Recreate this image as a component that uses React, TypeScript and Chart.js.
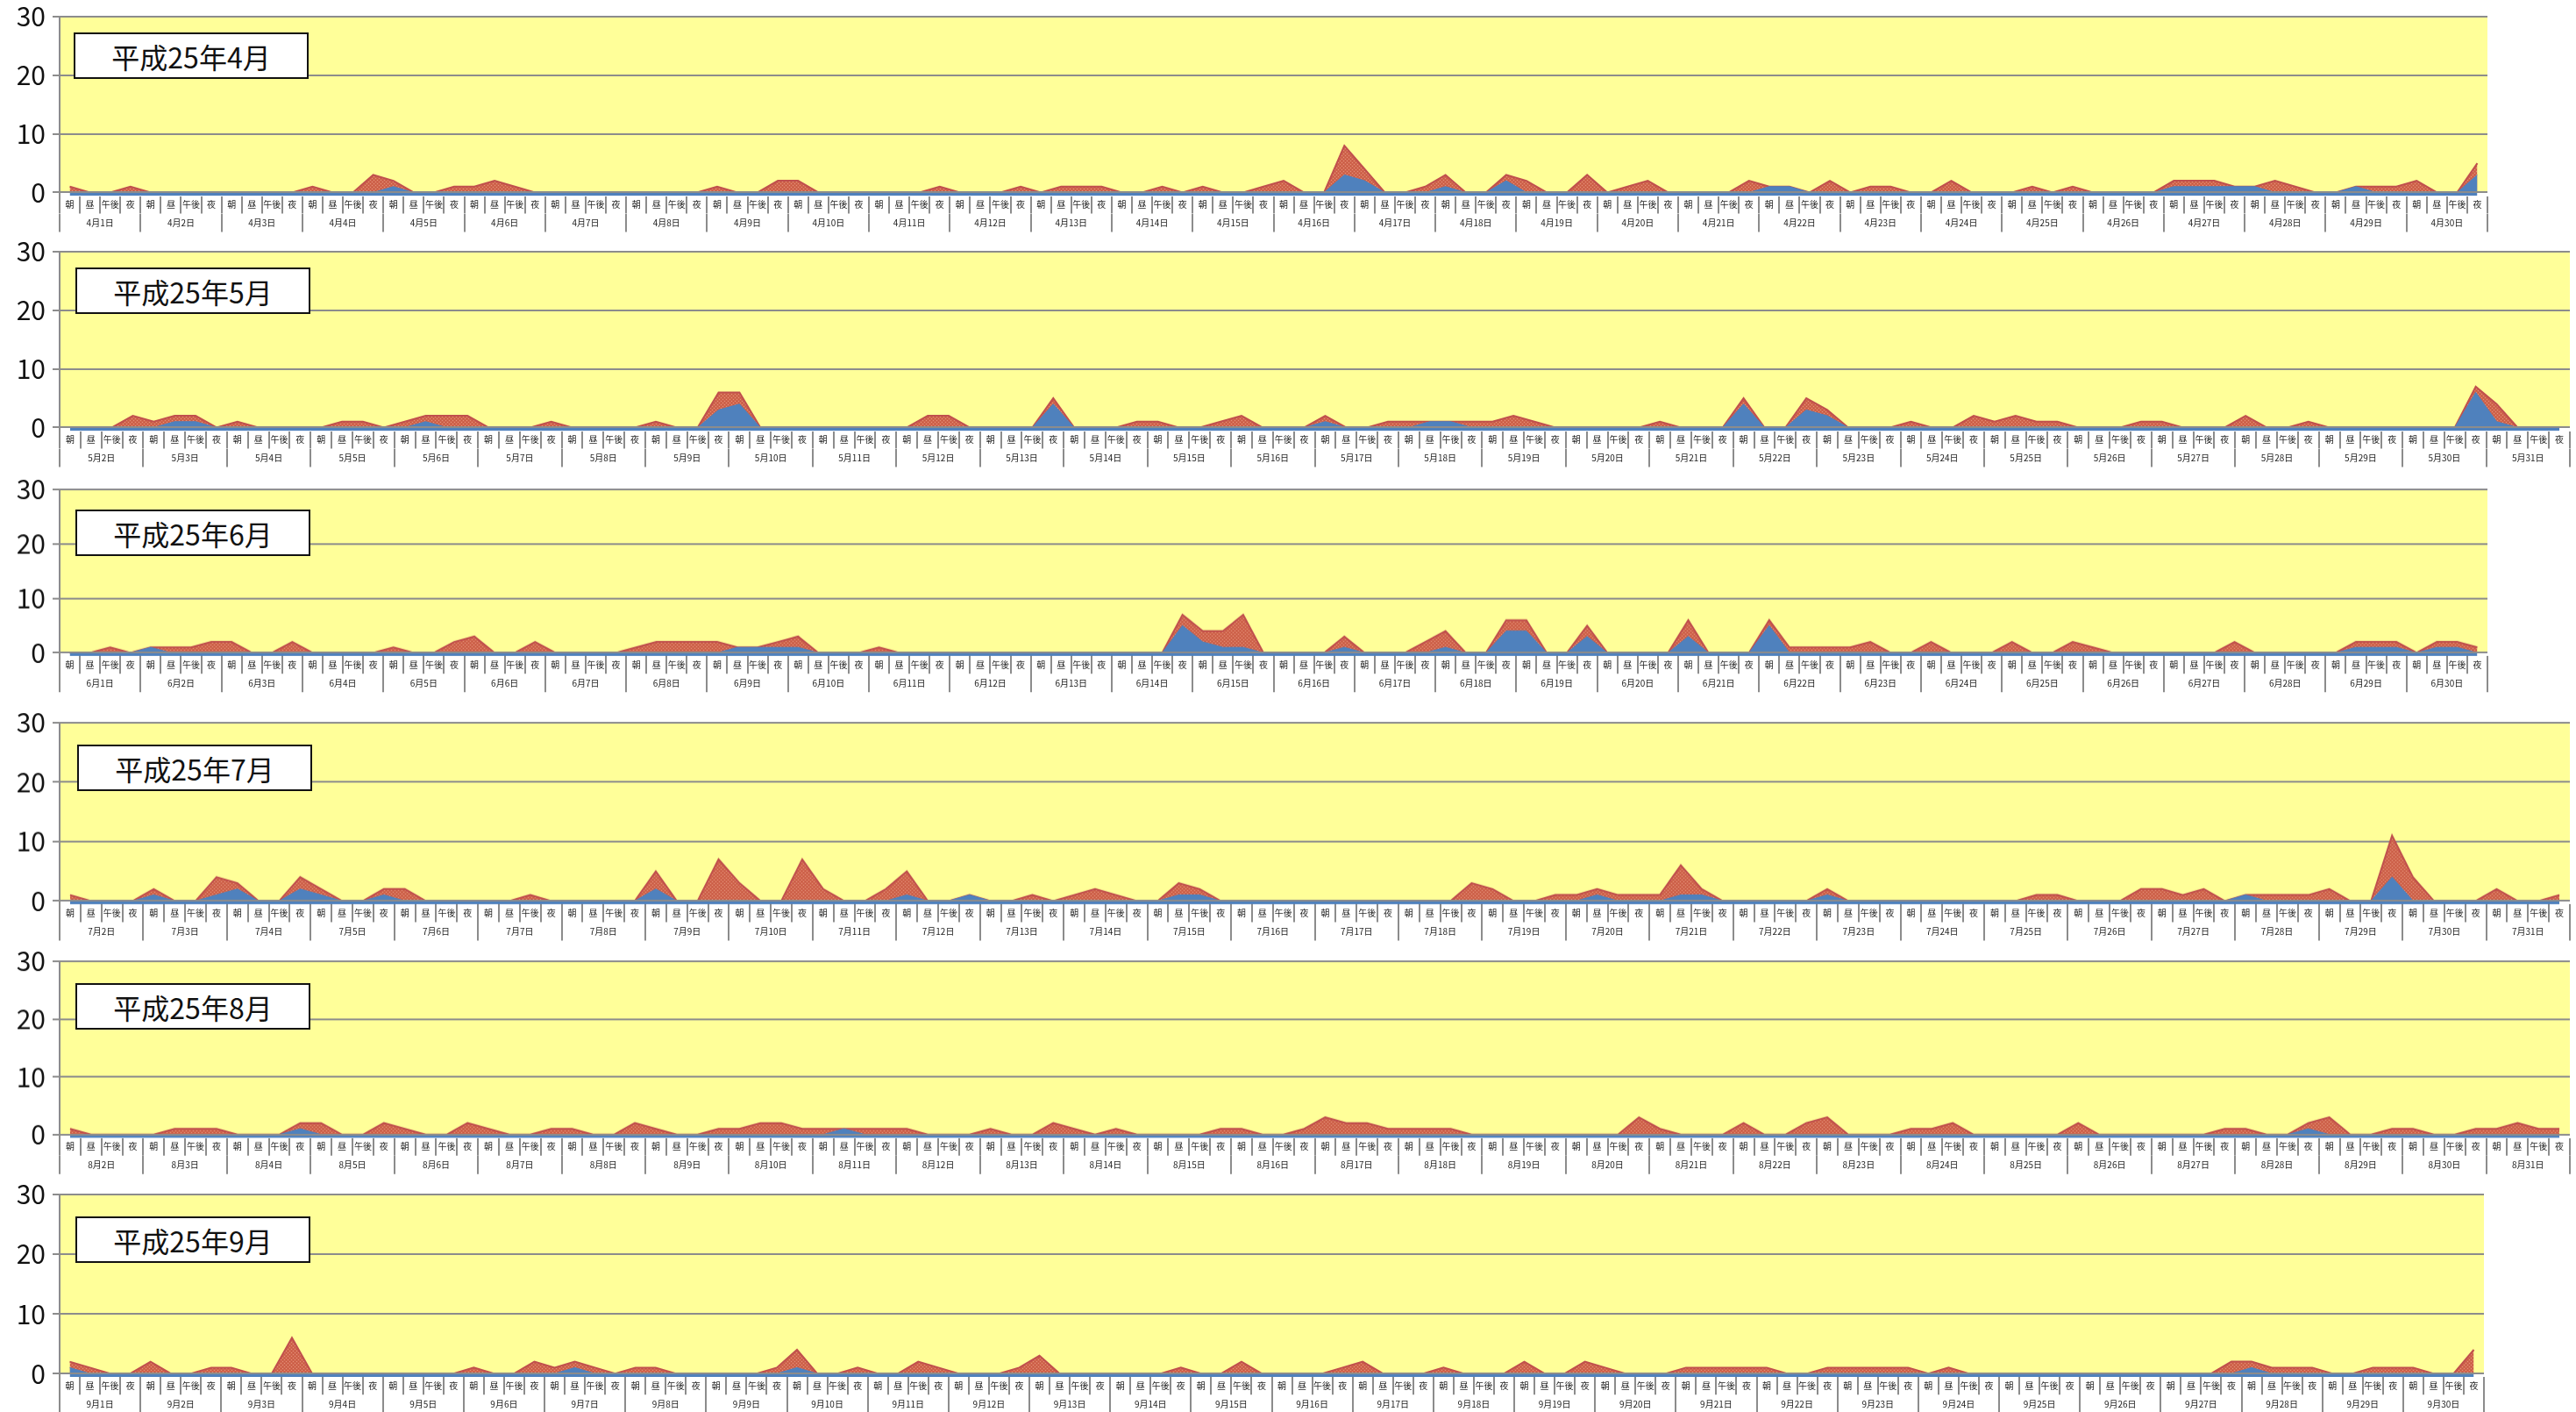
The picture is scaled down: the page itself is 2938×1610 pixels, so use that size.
import React, { useEffect, useRef } from "react";
import { Chart, registerables } from "chart.js";
Chart.register(...registerables);

const FONT = '"Noto Sans CJK JP", "Noto Sans", sans-serif';
const SLOTS = ["朝", "昼", "午後", "夜"];
const Y_TICKS = [0, 10, 20, 30];
const STRIP = -0.6;

const aprDays = ["4月1日","4月2日","4月3日","4月4日","4月5日","4月6日","4月7日","4月8日","4月9日","4月10日","4月11日","4月12日","4月13日","4月14日","4月15日","4月16日","4月17日","4月18日","4月19日","4月20日","4月21日","4月22日","4月23日","4月24日","4月25日","4月26日","4月27日","4月28日","4月29日","4月30日"];
const mayDays = ["5月2日","5月3日","5月4日","5月5日","5月6日","5月7日","5月8日","5月9日","5月10日","5月11日","5月12日","5月13日","5月14日","5月15日","5月16日","5月17日","5月18日","5月19日","5月20日","5月21日","5月22日","5月23日","5月24日","5月25日","5月26日","5月27日","5月28日","5月29日","5月30日","5月31日"];
const junDays = ["6月1日","6月2日","6月3日","6月4日","6月5日","6月6日","6月7日","6月8日","6月9日","6月10日","6月11日","6月12日","6月13日","6月14日","6月15日","6月16日","6月17日","6月18日","6月19日","6月20日","6月21日","6月22日","6月23日","6月24日","6月25日","6月26日","6月27日","6月28日","6月29日","6月30日"];
const julDays = ["7月2日","7月3日","7月4日","7月5日","7月6日","7月7日","7月8日","7月9日","7月10日","7月11日","7月12日","7月13日","7月14日","7月15日","7月16日","7月17日","7月18日","7月19日","7月20日","7月21日","7月22日","7月23日","7月24日","7月25日","7月26日","7月27日","7月28日","7月29日","7月30日","7月31日"];
const augDays = ["8月2日","8月3日","8月4日","8月5日","8月6日","8月7日","8月8日","8月9日","8月10日","8月11日","8月12日","8月13日","8月14日","8月15日","8月16日","8月17日","8月18日","8月19日","8月20日","8月21日","8月22日","8月23日","8月24日","8月25日","8月26日","8月27日","8月28日","8月29日","8月30日","8月31日"];
const sepDays = ["9月1日","9月2日","9月3日","9月4日","9月5日","9月6日","9月7日","9月8日","9月9日","9月10日","9月11日","9月12日","9月13日","9月14日","9月15日","9月16日","9月17日","9月18日","9月19日","9月20日","9月21日","9月22日","9月23日","9月24日","9月25日","9月26日","9月27日","9月28日","9月29日","9月30日"];

// values per slot (朝, 昼, 午後, 夜) per day
const aprTotal = [
  1,0,0,1, 0,0,0,0, 0,0,0,0, 1,0,0,3, 2,0,0,1, 1,2,1,0, 0,0,0,0, 0,0,0,0, 1,0,0,2, 2,0,0,0,
  0,0,0,1, 0,0,0,1, 0,1,1,1, 0,0,1,0, 1,0,0,1, 2,0,0,8, 4,0,0,1, 3,0,0,3, 2,0,0,3, 0,1,2,0,
  0,0,0,2, 1,1,0,2, 0,1,1,0, 0,2,0,0, 0,1,0,1, 0,0,0,0, 2,2,2,1, 1,2,1,0, 0,1,1,1, 2,0,0,5,
];
const aprSub = [
  0,0,0,0, 0,0,0,0, 0,0,0,0, 0,0,0,0, 1,0,0,0, 0,0,0,0, 0,0,0,0, 0,0,0,0, 0,0,0,0, 0,0,0,0,
  0,0,0,0, 0,0,0,0, 0,0,0,0, 0,0,0,0, 0,0,0,0, 0,0,0,3, 2,0,0,0, 1,0,0,2, 0,0,0,0, 0,0,0,0,
  0,0,0,0, 1,1,0,0, 0,0,0,0, 0,0,0,0, 0,0,0,0, 0,0,0,0, 1,1,1,1, 1,0,0,0, 0,1,0,0, 0,0,0,3,
];
const mayTotal = [
  0,0,0,2, 1,2,2,0, 1,0,0,0, 0,1,1,0, 1,2,2,2, 0,0,0,1, 0,0,0,0, 1,0,0,6, 6,0,0,0, 0,0,0,0,
  0,2,2,0, 0,0,0,5, 0,0,0,1, 1,0,0,1, 2,0,0,0, 2,0,0,1, 1,1,1,1, 1,2,1,0, 0,0,0,0, 1,0,0,0,
  5,0,0,5, 3,0,0,0, 1,0,0,2, 1,2,1,1, 0,0,0,1, 1,0,0,0, 2,0,0,1, 0,0,0,0, 0,0,0,7, 4,0,0,0,
];
const maySub = [
  0,0,0,0, 0,1,1,0, 0,0,0,0, 0,0,0,0, 0,1,0,0, 0,0,0,0, 0,0,0,0, 0,0,0,3, 4,0,0,0, 0,0,0,0,
  0,0,0,0, 0,0,0,4, 0,0,0,0, 0,0,0,0, 0,0,0,0, 1,0,0,0, 0,1,1,0, 0,0,0,0, 0,0,0,0, 0,0,0,0,
  4,0,0,3, 2,0,0,0, 0,0,0,0, 0,0,0,0, 0,0,0,0, 0,0,0,0, 0,0,0,0, 0,0,0,0, 0,0,0,6, 1,0,0,0,
];
const junTotal = [
  0,0,1,0, 1,1,1,2, 2,0,0,2, 0,0,0,0, 1,0,0,2, 3,0,0,2, 0,0,0,0, 1,2,2,2, 2,1,1,2, 3,0,0,0,
  1,0,0,0, 0,0,0,0, 0,0,0,0, 0,0,0,7, 4,4,7,0, 0,0,0,3, 0,0,0,2, 4,0,0,6, 6,0,0,5, 0,0,0,0,
  6,0,0,0, 6,1,1,1, 1,2,0,0, 2,0,0,0, 2,0,0,2, 1,0,0,0, 0,0,0,2, 0,0,0,0, 0,2,2,2, 0,2,2,1,
];
const junSub = [
  0,0,0,0, 1,0,0,0, 0,0,0,0, 0,0,0,0, 0,0,0,0, 0,0,0,0, 0,0,0,0, 0,0,0,0, 0,1,1,1, 1,0,0,0,
  0,0,0,0, 0,0,0,0, 0,0,0,0, 0,0,0,5, 2,1,1,0, 0,0,0,1, 0,0,0,0, 1,0,0,4, 4,0,0,3, 0,0,0,0,
  3,0,0,0, 5,0,0,0, 0,0,0,0, 0,0,0,0, 0,0,0,0, 0,0,0,0, 0,0,0,0, 0,0,0,0, 0,1,1,1, 0,1,1,0,
];
const julTotal = [
  1,0,0,0, 2,0,0,4, 3,0,0,4, 2,0,0,2, 2,0,0,0, 0,0,1,0, 0,0,0,0, 5,0,0,7, 3,0,0,7, 2,0,0,2,
  5,0,0,1, 0,0,1,0, 1,2,1,0, 0,3,2,0, 0,0,0,0, 0,0,0,0, 0,0,0,3, 2,0,0,1, 1,2,1,1, 1,6,2,0,
  0,0,0,0, 2,0,0,0, 0,0,0,0, 0,0,1,1, 0,0,0,2, 2,1,2,0, 1,1,1,1, 2,0,0,11, 4,0,0,0, 2,0,0,1,
];
const julSub = [
  0,0,0,0, 1,0,0,1, 2,0,0,2, 1,0,0,1, 0,0,0,0, 0,0,0,0, 0,0,0,0, 2,0,0,0, 0,0,0,0, 0,0,0,0,
  1,0,0,1, 0,0,0,0, 0,0,0,0, 0,1,1,0, 0,0,0,0, 0,0,0,0, 0,0,0,0, 0,0,0,0, 0,1,0,0, 0,1,1,0,
  0,0,0,0, 1,0,0,0, 0,0,0,0, 0,0,0,0, 0,0,0,0, 0,0,0,0, 1,0,0,0, 0,0,0,4, 0,0,0,0, 0,0,0,0,
];
const augTotal = [
  1,0,0,0, 0,1,1,1, 0,0,0,2, 2,0,0,2, 1,0,0,2, 1,0,0,1, 1,0,0,2, 1,0,0,1, 1,2,2,1, 1,1,1,1,
  1,0,0,0, 1,0,0,2, 1,0,1,0, 0,0,0,1, 1,0,0,1, 3,2,2,1, 1,1,1,0, 0,0,0,0, 0,0,0,3, 1,0,0,0,
  2,0,0,2, 3,0,0,0, 1,1,2,0, 0,0,0,0, 2,0,0,0, 0,0,0,1, 1,0,0,2, 3,0,0,1, 1,0,0,1, 1,2,1,1,
];
const augSub = [
  0,0,0,0, 0,0,0,0, 0,0,0,1, 0,0,0,0, 0,0,0,0, 0,0,0,0, 0,0,0,0, 0,0,0,0, 0,0,0,0, 0,1,0,0,
  0,0,0,0, 0,0,0,0, 0,0,0,0, 0,0,0,0, 0,0,0,0, 0,0,0,0, 0,0,0,0, 0,0,0,0, 0,0,0,0, 0,0,0,0,
  0,0,0,0, 0,0,0,0, 0,0,0,0, 0,0,0,0, 0,0,0,0, 0,0,0,0, 0,0,0,1, 0,0,0,0, 0,0,0,0, 0,0,0,0,
];
const sepTotal = [
  2,1,0,0, 2,0,0,1, 1,0,0,6, 0,0,0,0, 0,0,0,0, 1,0,0,2, 1,2,1,0, 1,1,0,0, 0,0,0,1, 4,0,0,1,
  0,0,2,1, 0,0,0,1, 3,0,0,0, 0,0,0,1, 0,0,2,0, 0,0,0,1, 2,0,0,0, 1,0,0,0, 2,0,0,2, 1,0,0,0,
  1,1,1,1, 1,0,0,1, 1,1,1,1, 0,1,0,0, 0,0,0,0, 0,0,0,0, 0,0,0,2, 2,1,1,1, 0,0,1,1, 1,0,0,4,
];
const sepSub = [
  1,0,0,0, 0,0,0,0, 0,0,0,0, 0,0,0,0, 0,0,0,0, 0,0,0,0, 0,1,0,0, 0,0,0,0, 0,0,0,0, 1,0,0,0,
  0,0,0,0, 0,0,0,0, 0,0,0,0, 0,0,0,0, 0,0,0,0, 0,0,0,0, 0,0,0,0, 0,0,0,0, 0,0,0,0, 0,0,0,0,
  0,0,0,0, 0,0,0,0, 0,0,0,0, 0,0,0,0, 0,0,0,0, 0,0,0,0, 0,0,0,0, 1,0,0,0, 0,0,0,0, 0,0,0,0,
];

type PanelDef = {
  title: string; days: string[]; total: number[]; sub: number[];
  top: number; zero: number; right: number; boxTop: number; boxLeft: number;
};

const PANELS: PanelDef[] = [
  { title: "平成25年4月", days: aprDays, total: aprTotal, sub: aprSub, top: 18.7, zero: 219.2, right: 2837, boxTop: 37, boxLeft: 84 },
  { title: "平成25年5月", days: mayDays, total: mayTotal, sub: maySub, top: 286.7, zero: 487.2, right: 2931, boxTop: 305, boxLeft: 86 },
  { title: "平成25年6月", days: junDays, total: junTotal, sub: junSub, top: 558.4, zero: 743.9, right: 2837, boxTop: 581, boxLeft: 86 },
  { title: "平成25年7月", days: julDays, total: julTotal, sub: julSub, top: 824.4, zero: 1026.8, right: 2931, boxTop: 849, boxLeft: 88 },
  { title: "平成25年8月", days: augDays, total: augTotal, sub: augSub, top: 1096.1, zero: 1292.9, right: 2931, boxTop: 1121, boxLeft: 86 },
  { title: "平成25年9月", days: sepDays, total: sepTotal, sub: sepSub, top: 1362.2, zero: 1566.4, right: 2833, boxTop: 1387, boxLeft: 86 },
];

const PAD_TOP = 28;
const AX1 = 20;
const AX2 = 21;
const PAD_BOTTOM = 2;
const LEFT = 68;
const GRID = "#8c8c8c";

function makeRedPattern(): CanvasPattern | string {
  const c = document.createElement("canvas");
  c.width = 4; c.height = 4;
  const g = c.getContext("2d");
  if (!g) return "#d2694f";
  g.fillStyle = "#d0664e"; g.fillRect(0, 0, 4, 4);
  g.fillStyle = "#e49078"; g.fillRect(0, 0, 1, 1); g.fillRect(2, 2, 1, 1);
  g.fillStyle = "#c85a44"; g.fillRect(2, 0, 1, 1); g.fillRect(0, 2, 1, 1);
  return g.createPattern(c, "repeat") || "#d2694f";
}

const bgPlugin = {
  id: "plotBg",
  beforeDraw(chart: any) {
    const { ctx, chartArea, scales } = chart;
    const zeroPx = scales.y.getPixelForValue(0);
    ctx.save();
    ctx.fillStyle = "#ffff99";
    ctx.fillRect(chartArea.left, chartArea.top, chartArea.right - chartArea.left, zeroPx - chartArea.top);
    ctx.restore();
  },
};

function Panel({ p }: { p: PanelDef }) {
  const ref = useRef<HTMLCanvasElement | null>(null);
  const plotH = (p.zero - p.top) * (30 - STRIP) / 30;
  const height = PAD_TOP + plotH + AX1 + AX2 + PAD_BOTTOM;
  const width = p.right + 8;

  useEffect(() => {
    if (!ref.current) return;
    const labels = p.days.flatMap(() => SLOTS);
    const chart = new Chart(ref.current, {
      type: "line",
      data: {
        labels,
        datasets: [
          {
            label: "内数",
            data: p.sub,
            borderColor: "#4f81bd",
            backgroundColor: "#4f81bd",
            borderWidth: 1,
            fill: { value: STRIP },
            pointRadius: 0,
            tension: 0,
          },
          {
            label: "計",
            data: p.total,
            borderColor: "#c0504d",
            backgroundColor: makeRedPattern() as any,
            borderWidth: 2,
            fill: "origin",
            pointRadius: 0,
            tension: 0,
          },
        ],
      },
      options: {
        animation: false,
        responsive: true,
        maintainAspectRatio: false,
        events: [],
        layout: { padding: { top: PAD_TOP, right: 8, left: 0, bottom: PAD_BOTTOM } },
        plugins: { legend: { display: false }, tooltip: { enabled: false }, title: { display: false } },
        scales: {
          x: {
            type: "category",
            position: "bottom",
            weight: 0,
            offset: true,
            grid: { offset: true, drawOnChartArea: false, drawTicks: true, tickLength: AX1, color: GRID, lineWidth: 2 },
            border: { display: false },
            ticks: { autoSkip: false, maxRotation: 0, minRotation: 0, padding: -16, font: { size: 10, family: FONT }, color: "#222" },
            afterFit: (s: any) => { s.height = AX1; },
          },
          x2: {
            type: "category",
            labels: p.days,
            position: "bottom",
            weight: 1,
            offset: true,
            grid: { offset: true, drawOnChartArea: false, drawTicks: true, tickLength: AX2, color: GRID, lineWidth: 2 },
            border: { display: false },
            ticks: { autoSkip: false, maxRotation: 0, minRotation: 0, padding: -16, font: { size: 10, family: FONT }, color: "#222" },
            afterFit: (s: any) => { s.height = AX2; },
          },
          y: {
            type: "linear",
            position: "left",
            weight: 1,
            min: STRIP,
            max: 30,
            afterBuildTicks: (s: any) => { s.ticks = Y_TICKS.map((v) => ({ value: v })); },
            grid: { color: GRID, lineWidth: 2, drawTicks: true, tickLength: 8 },
            border: { display: true, color: GRID, width: 2 },
            ticks: { font: { size: 30, family: FONT }, color: "#111", padding: 8 },
            afterFit: (s: any) => { s.width = LEFT; },
          },
          y0: {
            type: "linear",
            position: "left",
            weight: 0,
            min: STRIP,
            max: 30,
            afterBuildTicks: (s: any) => { s.ticks = [{ value: 0 }]; },
            grid: { color: GRID, lineWidth: 2, drawTicks: false, z: 1 },
            border: { display: false },
            ticks: { display: false },
            afterFit: (s: any) => { s.width = 0; },
          },
        },
      } as any,
      plugins: [bgPlugin],
    });
    return () => chart.destroy();
  }, []);

  return (
    <>
      <div style={{ position: "absolute", left: 0, top: p.top - PAD_TOP, width, height }}>
        <canvas ref={ref} />
      </div>
      <div
        style={{
          position: "absolute",
          left: p.boxLeft,
          top: p.boxTop,
          width: 268,
          height: 53,
          boxSizing: "border-box",
          border: "2px solid #111",
          background: "#fff",
          display: "flex",
          alignItems: "center",
          justifyContent: "center",
          fontFamily: FONT,
          fontSize: 32,
          color: "#111",
        }}
      >
        {p.title}
      </div>
    </>
  );
}

export default function App() {
  return (
    <div style={{ position: "fixed", left: 0, top: 0, width: 2938, height: 1610, background: "#fff", overflow: "hidden" }}>
      {PANELS.map((p) => (
        <Panel key={p.title} p={p} />
      ))}
    </div>
  );
}
